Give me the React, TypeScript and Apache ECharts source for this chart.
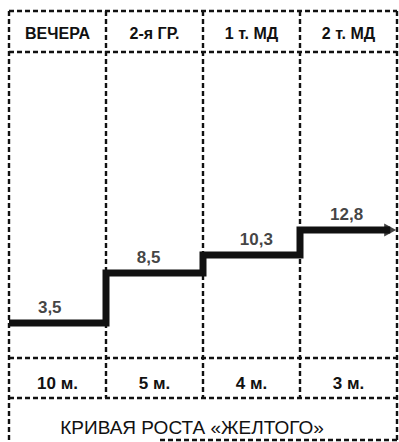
import React, { useEffect, useRef } from "react";
import * as echarts from "echarts";

const columns = ["ВЕЧЕРА", "2-я ГР.", "1 т. МД", "2 т. МД"];
const durations = ["10 м.", "5 м.", "4 м.", "3 м."];
const growth = [3.5, 8.5, 10.3, 12.8];
const labelX = [0.42, 1.44, 2.55, 3.48];
const arrowEnd = 3.93;
const titleText = "КРИВАЯ РОСТА «ЖЕЛТОГО»";

const FONT = "'Liberation Sans', Arial, Helvetica, sans-serif";
const INK = "#111";

export default function App() {
  const ref = useRef<HTMLDivElement>(null);
  useEffect(() => {
    if (!ref.current) return;
    const chart = echarts.init(ref.current, undefined, { renderer: "svg" });

    const pts: number[][] = [];
    growth.forEach((v, i) => {
      pts.push([i, v]);
      pts.push([i === growth.length - 1 ? arrowEnd : i + 1, v]);
    });
    const labelPts = growth.map((v, i) => [labelX[i], v]);
    const fmt = (v: number) => String(v).replace(".", ",");

    const L = 9, R = 397, colW = (R - L) / 4;
    const dash = { stroke: INK, lineWidth: 2.4, lineDash: [5, 3] };
    const hl = (y: number, x1 = L, x2 = R) => ({ type: "line", silent: true, shape: { x1, y1: y, x2, y2: y }, style: dash });
    const vl = (x: number, y1: number, y2: number) => ({ type: "line", silent: true, shape: { x1: x, y1, x2: x, y2 }, style: dash });

    const graphic: any[] = [
      hl(11), hl(52), hl(358), hl(398), hl(440, 160, R),
      vl(L, 11, 442), vl(R, 11, 440),
      vl(L + colW, 11, 398), vl(L + 2 * colW, 11, 398), vl(L + 3 * colW, 11, 398),
      {
        type: "text", silent: true, x: 192, y: 427,
        style: { text: titleText, font: `19px ${FONT}`, fill: INK, align: "center", verticalAlign: "middle" },
      },
    ];

    const headStyle = { fontFamily: FONT, fontSize: 16, fontWeight: "bold" as const, color: INK };
    const labelStyle = { fontFamily: FONT, fontSize: 17, fontWeight: "bold" as const, color: INK };

    chart.setOption({
      animation: false,
      backgroundColor: "#fff",
      grid: [
        { left: L, right: 399 - R, top: 52, bottom: 84 },
        { left: L, right: 399 - R, top: 358, height: 40 },
      ],
      xAxis: [
        { type: "value", gridIndex: 0, min: 0, max: 4, show: false },
        {
          type: "category", gridIndex: 0, position: "top", data: columns,
          axisLine: { show: false }, axisTick: { show: false }, splitLine: { show: false },
          axisLabel: { ...headStyle, margin: 19, verticalAlign: "middle", interval: 0 },
        },
        {
          type: "category", gridIndex: 1, position: "top", data: durations,
          axisLine: { show: false }, axisTick: { show: false }, splitLine: { show: false },
          axisLabel: { ...labelStyle, inside: true, margin: 25, verticalAlign: "middle", interval: 0 },
        },
      ],
      yAxis: [
        { type: "value", gridIndex: 0, min: 0, max: 30.6, show: false },
        { type: "value", gridIndex: 1, show: false },
      ],
      series: [
        {
          type: "line", xAxisIndex: 0, yAxisIndex: 0, data: pts, symbol: "none",
          lineStyle: { color: INK, width: 7, join: "miter", cap: "butt" },
        },
        {
          type: "scatter", xAxisIndex: 0, yAxisIndex: 0,
          data: [[arrowEnd, growth[growth.length - 1]]],
          symbol: "triangle", symbolRotate: -90, symbolSize: [13, 12],
          itemStyle: { color: INK },
        },
        {
          type: "scatter", xAxisIndex: 0, yAxisIndex: 0, data: labelPts,
          symbolSize: 1, itemStyle: { color: "transparent" },
          label: {
            show: true, position: "top", distance: 7, ...labelStyle,
            formatter: (p: any) => fmt(p.value[1]),
          },
        },
      ],
      graphic,
    });
    return () => chart.dispose();
  }, []);
  return (
    <div
      ref={ref}
      style={{ position: "absolute", left: 0, top: 0, width: 399, height: 442, background: "#fff" }}
    />
  );
}
